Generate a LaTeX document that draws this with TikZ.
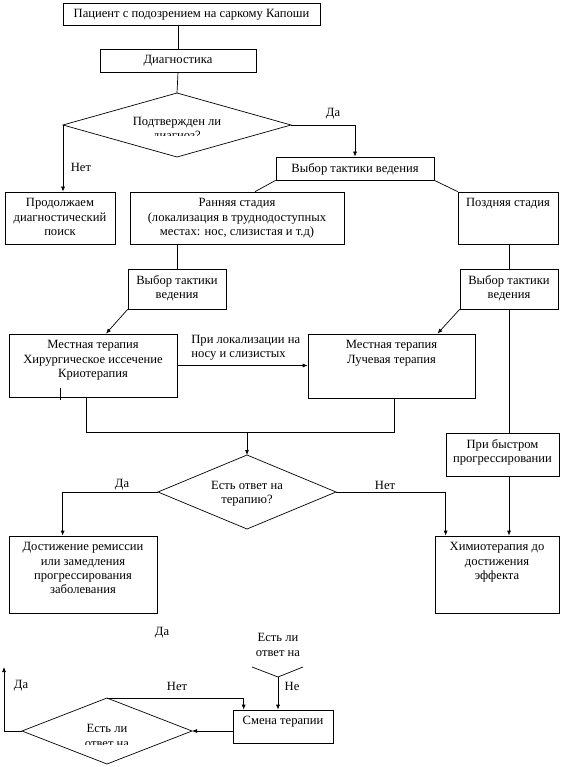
\documentclass[tikz,border=0pt]{standalone}
\usepackage{fontspec}
\setmainfont{Liberation Serif}
\usetikzlibrary{arrows.meta, calc, fit, positioning}
\newcommand{\flowbox}[4]{
    \coordinate (#1-a) at (#2);
    \coordinate (#1-b) at (#3);
    \node[box, fit=(#1-a) (#1-b)] (#1) {};
    \node[txt, anchor=north] (#1-t) at (#1.north) {#4};
}
\newcommand{\flowdiamond}[4]{
    \coordinate (#1-c) at (#2);
    \coordinate (#1-l) at ($(#1-c) + (-#3, 0)$);
    \coordinate (#1-r) at ($(#1-c) + (#3, 0)$);
    \coordinate (#1-u) at ($(#1-c) + (0, -#4)$);
    \coordinate (#1-d) at ($(#1-c) + (0, #4)$);
    \draw
    (#1-l) -- (#1-u) -- (#1-r) -- (#1-d) -- cycle;
}
\begin{document}
\begin{tikzpicture}[x=1pt, y=-1pt, line width=0.7pt,
    >={Latex[length=5pt, width=4pt]},
    box/.style={draw, rectangle, inner sep=0pt},
    txt/.style={font=\fontsize{12.6}{14.4}\selectfont, align=center, inner sep=6.5pt},
    lbl/.style={font=\fontsize{12.6}{14.4}\selectfont, inner sep=0pt}]
    \useasboundingbox (0, 0) rectangle (561, 767);
    % boxes
    \flowbox{start}{63, 3}{320, 25}{Пациент с подозрением на саркому Капоши}
    \flowbox{diag}{100, 49}{256, 72}{Диагностика}
    \flowbox{tact}{276, 157}{434, 180}{Выбор тактики ведения}
    \flowbox{search}{5, 192}{115, 244}{Продолжаем\\ диагностический\\ поиск}
    \flowbox{early}{130, 192}{344, 244}{Ранняя стадия\\ (локализация в труднодоступных\\ местах: нос, слизистая и т.д)}
    \flowbox{late}{458, 192}{558, 244}{Поздняя стадия}
    \flowbox{tactL}{128, 269}{226, 309}{Выбор тактики\\ ведения}
    \flowbox{tactR}{460, 269}{558, 309}{Выбор тактики\\ ведения}
    \flowbox{local1}{9, 334}{177, 397}{Местная терапия\\ Хирургическое иссечение\\ Криотерапия}
    \flowbox{local2}{308, 334}{475, 398}{Местная терапия\\ Лучевая терапия}
    \flowbox{fast}{446, 433}{559, 476}{При быстром\\ прогрессировании}
    \flowbox{remis}{9, 536}{157, 613}{Достижение ремиссии\\ или замедления\\ прогрессирования\\ заболевания}
    \flowbox{chemo}{435, 536}{559, 613}{Химиотерапия до\\ достижения\\ эффекта}
    \flowbox{change}{233, 710}{333, 743}{Смена терапии}
    % decisions
    \flowdiamond{q1}{177, 125}{114}{32}
    \flowdiamond{q2}{247, 492}{89}{37}
    \flowdiamond{q3}{107, 731}{85}{33}
    \coordinate (q4-d) at (278, 677);
    \draw ($(q4-d) + (-26, -10)$) -- (q4-d) -- ($(q4-d) + (25, -10)$);
    \begin{scope}
        \clip (0, 0) rectangle (561, 136);
        \node[lbl, align=center] (q1-t) at ($(q1-c) + (0, 4.5)$) {Подтвержден ли\\ диагноз?};
    \end{scope}
    \node[lbl, align=center] (q2-t) at ($(q2-c) + (0, 2)$) {Есть ответ на\\ терапию?};
    \begin{scope}
        \clip (0, 600) rectangle (561, 744);
        \node[lbl, align=center] (q3-t) at ($(q3-c) + (0, 5)$) {Есть ли\\ ответ на};
    \end{scope}
    \node[lbl, align=center] (q4-t) at ($(q4-d) + (0, -32)$) {Есть ли\\ ответ на};
    % connectors
    \draw (start.south -| diag.north) -- (diag.north);
    \draw (diag.south) -- (q1-u);
    \draw[->] (q1-r) -| (tact.north);
    \draw[->] (q1-l) -- (q1-l |- search.north);
    \draw (tact.south west) -- ($(early.north) + (18, 0)$);
    \draw (tact.south east) -- (late.north west);
    \draw (tactL.north |- early.south) -- (tactL.north);
    \draw (tactR.north |- late.south) -- (tactR.north);
    \draw[->] (tactL.south west) -- ($(local1.north) + (13, 0)$);
    \draw[->] (tactR.south west) -- ($(local2.north) + (46, 0)$);
    \draw[->] (local1.east) -- (local1.east -| local2.west);
    \coordinate (merge) at (q2-u |- fast.north);
    \draw ($(local1.south west) + (78, 0)$) |- (merge) -| ($(local2.south) + (3, 0)$);
    \draw[->] (merge) -- (q2-u);
    \draw ($(local1.south west) + (52, -9)$) -- ++(0, 12);
    \draw (tactR.south) -- (tactR.south |- fast.north);
    \draw[->] (tactR.south |- fast.south) -- (tactR.south |- chemo.north);
    \draw[->] (q2-l) -| ($(remis.north west) + (54, 0)$);
    \draw[->] (q2-r) -| ($(chemo.north west) + (11, 0)$);
    \draw[->] (q4-d) -- (q4-d |- change.north);
    \draw[->] (change.west |- q3-r) -- (q3-r);
    \coordinate (back) at (4, 667);
    \draw[->] (q3-l) -| (back);
    \draw[->] (q3-u) -| ($(change.north west) + (11, 0)$);
    % labels
    \node[lbl] (yes1) at (333, 114) {Да};
    \node[lbl] (no1) at (81, 167) {Нет};
    \node[lbl, align=left, anchor=west] (nose) at (191, 348) {При локализации на\\ носу и слизистых};
    \node[lbl] (yes2) at (122, 485) {Да};
    \node[lbl] (no2) at (385, 485) {Нет};
    \node[lbl] (yes3) at (162, 633) {Да};
    \node[lbl] (no3) at (292, 686) {Не};
    \node[lbl] (yes4) at (21, 686) {Да};
    \node[lbl] (no4) at (177, 686) {Нет};
\end{tikzpicture}
\end{document}
